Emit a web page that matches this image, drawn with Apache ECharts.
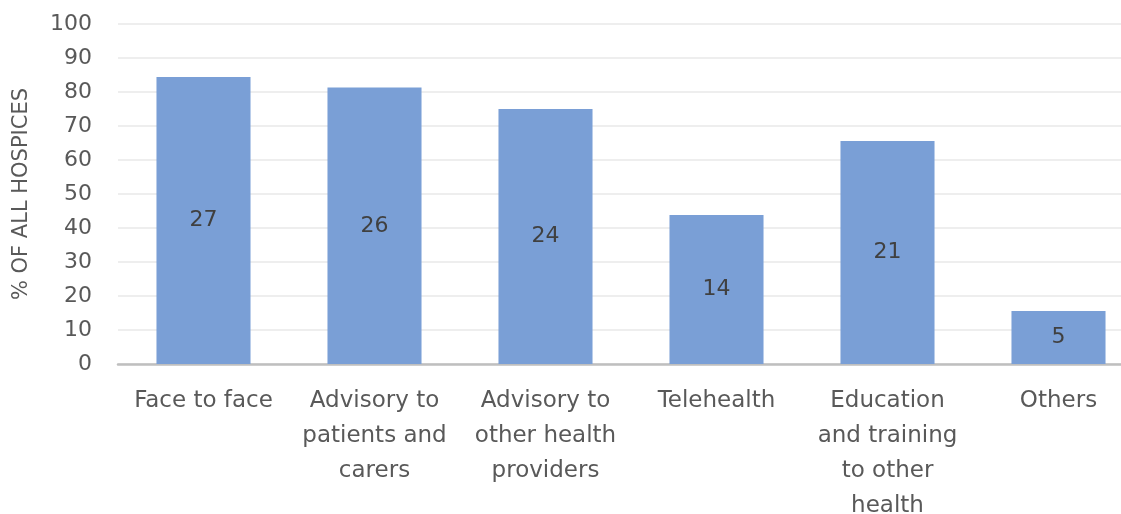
<!DOCTYPE html>
<html>
<head>
<meta charset="utf-8">
<script src="https://cdn.jsdelivr.net/npm/echarts@6/dist/echarts.min.js"></script>
<style>html,body{margin:0;padding:0;background:#fff}#c{width:1121px;height:514px}</style>
</head>
<body>
<div id="c"></div>
<script>
const categories = ["Face to face", "Advisory to\npatients and\ncarers", "Advisory to\nother health\nproviders", "Telehealth", "Education\nand training\nto other\nhealth", "Others"];
const percentValues = [84.4, 81.3, 75.0, 43.8, 65.6, 15.6];
const countLabels = [27, 26, 24, 14, 21, 5];
const yTicks = { min: 0, max: 100, interval: 10 };

const chart = echarts.init(document.getElementById('c'));
const font = '"DejaVu Sans", sans-serif';
chart.setOption({
  animation: false,
  grid: { left: 118, width: 1026, top: 24, bottom: 150, containLabel: false, outerBoundsMode: 'none' },
  xAxis: {
    type: 'category',
    data: categories,
    axisLine: { lineStyle: { color: '#bfbfbf', width: 2.5 } },
    axisTick: { show: false },
    axisLabel: { interval: 0, color: '#595959', fontSize: 23, fontFamily: font, lineHeight: 35, margin: 20 }
  },
  yAxis: {
    type: 'value',
    min: yTicks.min, max: yTicks.max, interval: yTicks.interval,
    name: '% OF ALL HOSPICES',
    nameLocation: 'middle',
    nameGap: 86,
    nameTextStyle: { color: '#595959', fontSize: 21, fontFamily: font },
    axisLine: { show: false },
    axisTick: { show: false },
    axisLabel: { color: '#595959', fontSize: 22, fontFamily: font, margin: 26 },
    splitLine: { lineStyle: { color: '#e8e8e8', width: 1.5 } }
  },
  series: [{
    type: 'bar',
    data: percentValues.map((v, i) => ({ value: v, label: { formatter: String(countLabels[i]) } })),
    barWidth: '55%',
    itemStyle: { color: '#7a9fd6' },
    label: { show: true, position: 'inside', color: '#404040', fontSize: 22, fontFamily: font }
  }]
});
</script>
</body>
</html>
